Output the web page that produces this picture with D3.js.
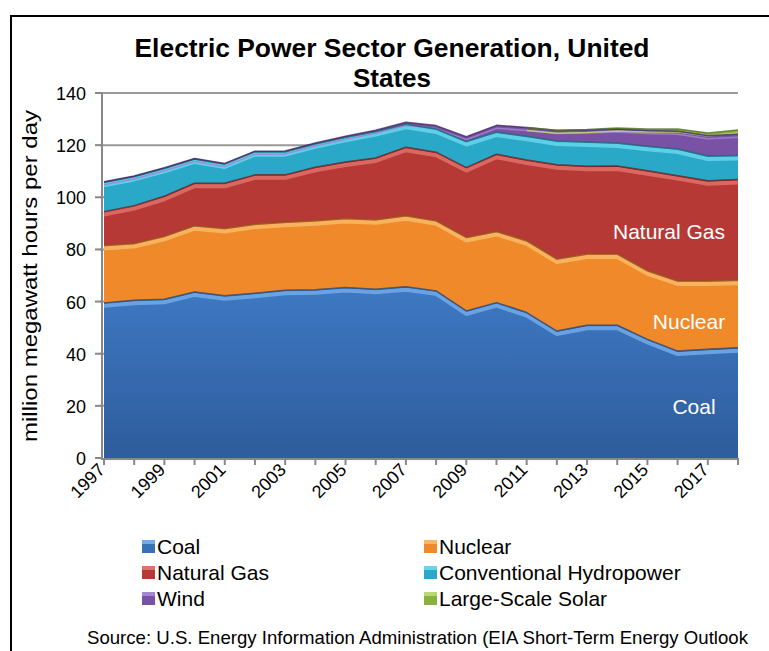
<!DOCTYPE html>
<html>
<head>
<meta charset="utf-8">
<script src="https://cdn.jsdelivr.net/npm/d3@7"></script>
<style>
  body { margin: 0; background: #fff; }
  svg { display: block; font-family: "Liberation Sans", Arial, sans-serif; }
</style>
</head>
<body>
<svg id="chart" width="769" height="651"></svg>
<script>
const years = d3.range(1997, 2019)

const coal    = [59.5, 60.5, 60.9, 63.7, 62.2, 63.2, 64.3, 64.5, 65.4, 64.7, 65.7, 64.1, 56.4, 59.6, 55.8, 48.7, 50.9, 50.9, 45.5, 41.0, 41.7, 42.3]
const nuclear = [22.0, 21.8, 24.1, 25.4, 25.8, 26.5, 26.1, 26.5, 26.5, 26.7, 27.2, 26.9, 28.2, 27.3, 27.5, 27.6, 27.3, 27.3, 26.3, 26.9, 26.2, 25.9]
const gas     = [13.0, 14.5, 15.4, 16.3, 17.4, 18.9, 18.2, 20.5, 21.6, 23.7, 26.3, 26.3, 26.8, 29.6, 31.0, 36.2, 33.7, 33.8, 38.4, 40.4, 38.4, 38.6]
const hydro   = [11.3, 11.2, 10.7,  9.3,  7.4,  8.9,  8.9,  9.0,  9.5, 10.1,  8.8,  8.9, 10.0,  8.5,  9.1,  9.1,  9.3,  8.8,  9.4, 10.2,  9.5,  9.2]
const wind    = [ 0.2,  0.2,  0.2,  0.2,  0.2,  0.2,  0.3,  0.3,  0.4,  0.5,  0.8,  1.3,  1.8,  2.6,  3.4,  4.0,  4.6,  5.4,  6.0,  6.8,  7.8,  8.2]
const solar   = [ 0.0,  0.0,  0.0,  0.0,  0.0,  0.0,  0.0,  0.0,  0.0,  0.0,  0.0,  0.0,  0.0,  0.0,  0.0,  0.1,  0.2,  0.4,  0.6,  0.9,  1.1,  1.6]

const seriesNames = ['Coal', 'Nuclear', 'Natural Gas', 'Conventional Hydropower', 'Wind', 'Large-Scale Solar']
const seriesValues = [coal, nuclear, gas, hydro, wind, solar]
const yTicks = [0, 20, 40, 60, 80, 100, 120, 140]
const xLabelYears = [1997, 1999, 2001, 2003, 2005, 2007, 2009, 2011, 2013, 2015, 2017]

// fill, highlight, edge
const palette = [
    ['#3a70b6', '#72aaea', '#26456f'],
    ['#ef892a', '#f9b865', '#8c521c'],
    ['#b73936', '#e2706a', '#63201e'],
    ['#29a8c8', '#66d6ec', '#1b6477'],
    ['#7a52a5', '#a584d0', '#452a66'],
    ['#8ab041', '#b9d872', '#55722a']
]

const rows = years.map((yr, i) => {
    const r = { year: yr }
    seriesNames.forEach((k, j) => r[k] = seriesValues[j][i])
    return r
})

const svg = d3.select('#chart')

const x = d3.scaleLinear().domain([1997, 2018]).range([104, 738])
const y = d3.scaleLinear().domain([0, 140]).range([458, 93])

const layers = d3.stack().keys(seriesNames)(rows)

// outer frame
svg.append('rect')
    .attr('x', 11).attr('y', 16)
    .attr('width', 800).attr('height', 700)
    .attr('fill', 'none')
    .attr('stroke', '#000')
    .attr('stroke-width', 2)

// title
svg.append('text')
    .attr('x', 392).attr('y', 57)
    .attr('text-anchor', 'middle')
    .attr('textLength', 515).attr('lengthAdjust', 'spacingAndGlyphs')
    .style('font-size', '26px').style('font-weight', 'bold')
    .text('Electric Power Sector Generation, United')
svg.append('text')
    .attr('x', 392).attr('y', 87)
    .attr('text-anchor', 'middle')
    .style('font-size', '26px').style('font-weight', 'bold')
    .text('States')

// gridlines
svg.append('g')
    .selectAll('line')
    .data(yTicks.filter(t => t > 0))
    .enter().append('line')
    .attr('x1', 100).attr('x2', 738)
    .attr('y1', d => y(d)).attr('y2', d => y(d))
    .attr('stroke', '#999')
    .attr('stroke-width', 2)

const defs = svg.append('defs')
const grad = defs.append('linearGradient')
    .attr('id', 'coalGrad')
    .attr('x1', 0).attr('y1', 0).attr('x2', 0).attr('y2', 1)
grad.append('stop').attr('offset', '0%').attr('stop-color', '#3e79c3')
grad.append('stop').attr('offset', '100%').attr('stop-color', '#2e5c9c')

const area = d3.area()
    .x(d => x(d.data.year))
    .y0(d => y(d[0]))
    .y1(d => y(d[1]))

// hide zero-thickness stretches (solar before it starts)
const visible = (layer, i) => {
    const th = p => p && (p[1] - p[0]) > 0
    return th(layer[i]) || th(layer[i - 1]) || th(layer[i + 1])
}

const edgePath = (layer) => d3.line()
    .defined((d, i) => visible(layer, i))
    .x(d => x(d.data.year))
    .y(d => y(d[1]))(layer)

const plot = svg.append('g')

plot.selectAll('path.area')
    .data(layers)
    .enter().append('path')
    .attr('class', 'area')
    .attr('d', area)
    .attr('fill', (d, i) => i === 0 ? 'url(#coalGrad)' : palette[i][0])

// bevel: light band just under each top edge, dark edge on top
plot.selectAll('path.hi')
    .data(layers)
    .enter().append('path')
    .attr('class', 'hi')
    .attr('d', edgePath)
    .attr('transform', 'translate(0,3)')
    .attr('fill', 'none')
    .attr('stroke', (d, i) => palette[i][1])
    .attr('stroke-width', (d, i) => i >= 4 ? 1.5 : 4)
    .attr('stroke-opacity', 0.85)
    .attr('stroke-linejoin', 'round')

plot.selectAll('path.edge')
    .data(layers)
    .enter().append('path')
    .attr('class', 'edge')
    .attr('d', edgePath)
    .attr('fill', 'none')
    .attr('stroke', (d, i) => palette[i][2])
    .attr('stroke-width', 1.5)
    .attr('stroke-opacity', 0.8)
    .attr('stroke-linejoin', 'round')

// axes
const yAxis = svg.append('g')
yAxis.append('line')
    .attr('x1', 102).attr('x2', 102)
    .attr('y1', y(140)).attr('y2', y(0))
    .attr('stroke', '#888').attr('stroke-width', 2)
yAxis.selectAll('line.tick')
    .data(yTicks)
    .enter().append('line')
    .attr('class', 'tick')
    .attr('x1', 95).attr('x2', 102)
    .attr('y1', d => y(d)).attr('y2', d => y(d))
    .attr('stroke', '#888').attr('stroke-width', 2)
yAxis.selectAll('text')
    .data(yTicks)
    .enter().append('text')
    .attr('x', 86).attr('y', d => y(d) + 7)
    .attr('text-anchor', 'end')
    .style('font-size', '18px')
    .text(d => d)

const xAxis = svg.append('g')
xAxis.append('line')
    .attr('x1', 101).attr('x2', 739)
    .attr('y1', y(0) + 1).attr('y2', y(0) + 1)
    .attr('stroke', '#888').attr('stroke-width', 2)
xAxis.selectAll('line.tick')
    .data(years)
    .enter().append('line')
    .attr('class', 'tick')
    .attr('x1', d => x(d)).attr('x2', d => x(d))
    .attr('y1', y(0)).attr('y2', y(0) + 7)
    .attr('stroke', '#888').attr('stroke-width', 2)
xAxis.selectAll('text')
    .data(xLabelYears)
    .enter().append('text')
    .attr('text-anchor', 'end')
    .attr('transform', d => `translate(${x(d) + 2}, ${y(0) + 13}) rotate(-45)`)
    .style('font-size', '18px')
    .text(d => d)

svg.append('text')
    .attr('transform', 'translate(37, 276) rotate(-90)')
    .attr('text-anchor', 'middle')
    .attr('textLength', 332).attr('lengthAdjust', 'spacingAndGlyphs')
    .style('font-size', '21px')
    .text('million megawatt hours per day')

// labels inside the areas
const inside = [
    { name: 'Coal', x: 694, y: 414 },
    { name: 'Nuclear', x: 689, y: 329 },
    { name: 'Natural Gas', x: 669, y: 239 }
]
svg.selectAll('text.inside')
    .data(inside)
    .enter().append('text')
    .attr('class', 'inside')
    .attr('x', d => d.x).attr('y', d => d.y)
    .attr('text-anchor', 'middle')
    .attr('fill', '#fff')
    .style('font-size', '21px')
    .text(d => d.name)

// legend
const legend = svg.append('g')
const item = legend.selectAll('g')
    .data(seriesNames)
    .enter().append('g')
    .attr('transform', (d, i) => `translate(${i % 2 ? 419 : 137}, ${546 + Math.floor(i / 2) * 26})`)
item.append('rect')
    .attr('x', 5).attr('y', -6)
    .attr('width', 13).attr('height', 13)
    .attr('fill', d => palette[seriesNames.indexOf(d)][0])
item.append('rect')
    .attr('x', 5).attr('y', -6)
    .attr('width', 13).attr('height', 4)
    .attr('fill', d => palette[seriesNames.indexOf(d)][1])
item.append('text')
    .attr('x', 20).attr('y', 8)
    .style('font-size', '21px')
    .text(d => d)

svg.append('text')
    .attr('x', 87).attr('y', 644)
    .attr('textLength', 661).attr('lengthAdjust', 'spacingAndGlyphs')
    .style('font-size', '19px')
    .text('Source: U.S. Energy Information Administration (EIA Short-Term Energy Outlook')
</script>
</body>
</html>
